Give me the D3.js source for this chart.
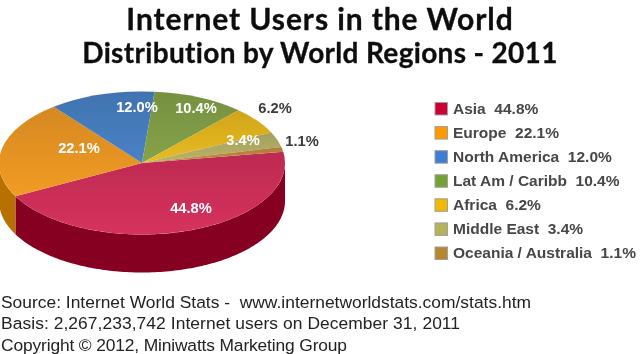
<!DOCTYPE html>
<html>
<head>
<meta charset="utf-8">
<script src="https://cdn.jsdelivr.net/npm/d3@7"></script>
<style>
  html, body { margin: 0; padding: 0; background: #fff; }
  svg { display: block; }
  text { white-space: pre; }
  .title { font-family: Lato, sans-serif; font-weight: bold; fill: #0c0c0c; stroke: #0c0c0c; stroke-width: 0.3; text-anchor: middle; }
  .slice-label { font: bold 14.7px "Liberation Sans", sans-serif; text-anchor: middle; dominant-baseline: middle; }
  .legend-label { font: bold 15.5px "Liberation Sans", sans-serif; fill: #474747; dominant-baseline: middle; }
  .footer { font: 17.4px "Liberation Sans", sans-serif; fill: #222; }
</style>
</head>
<body>
<div id="chart"></div>
<script>
const titleLines = ["Internet Users in the World", "Distribution by World Regions - 2011"];
const regions = ["Asia", "Europe", "North America", "Lat Am / Caribb", "Africa", "Middle East", "Oceania / Australia"];
const shares = [44.8, 22.1, 12.0, 10.4, 6.2, 3.4, 1.1];
const legendColors = ["#cc0033", "#ff9900", "#3d7fd6", "#77a035", "#f0b800", "#b3b35c", "#b8862d"];
const topColors = ["#c42d55", "#dd8e22", "#4377b5", "#7a9543", "#d6ab1e", "#aaa560", "#b5803a"];
const sideColors = ["#860020", "#b87000", "#2a5a90", "#5a7030", "#a08010", "#80804a", "#8a6020"];
const footerLines = [
  "Source: Internet World Stats -  www.internetworldstats.com/stats.htm",
  "Basis: 2,267,233,742 Internet users on December 31, 2011",
  "Copyright \u00A9 2012, Miniwatts Marketing Group"
];

const width = 640;
const height = 354;

const cx = 142;
const cy = 163;
const rx = 143;
const ry = 71.5;
const depth = 38;

// hand placed in the original, they do not sit on a common radius
const labelSpots = {
  "Asia": [191, 209],
  "Europe": [79, 149],
  "North America": [137, 108],
  "Lat Am / Caribb": [196, 109],
  "Africa": [275, 109],
  "Middle East": [243, 141],
  "Oceania / Australia": [302, 142]
};
const outsideLabels = ["Africa", "Oceania / Australia"];

// size, tracking and baseline per title line, the second line is set smaller
const titleStyle = [
  {size: 30, spacing: 0.9, base: 30},
  {size: 28, spacing: 0.33, base: 63}
];
const footerWidths = [530, 459, 346];

const svg = d3.select("#chart").append("svg")
  .attr("width", width)
  .attr("height", height);

const defs = svg.append("defs");

defs.append("filter")
  .attr("id", "soft")
  .append("feGaussianBlur")
  .attr("stdDeviation", 0.45);

const rows = regions.map(function (name, i) {
  return {name: name, share: shares[i], top: topColors[i], side: sideColors[i], legend: legendColors[i]};
});

const pie = d3.pie()
  .sort(null)
  .value(function (d) { return d.share; })
  .startAngle(81 * Math.PI / 180)
  .endAngle(441 * Math.PI / 180);

const slices = pie(rows);

const arc = d3.arc()
  .innerRadius(0)
  .outerRadius(rx);

// rim of the tilted disc, angle measured clockwise from 12 o'clock
function rim(a, drop) {
  return [cx + rx * Math.sin(a), cy - ry * Math.cos(a) + drop];
}

function wallPath(d) {
  const a0 = Math.max(d.startAngle, Math.PI / 2);
  const a1 = Math.min(d.endAngle, 3 * Math.PI / 2);
  if (a1 <= a0) return null;
  const steps = d3.range(a0, a1, 0.02).concat([a1]);
  const pts = steps.map(function (a) { return rim(a, 0); })
    .concat(steps.slice().reverse().map(function (a) { return rim(a, depth); }));
  return d3.line()(pts) + "Z";
}

slices.forEach(function (d, i) {
  const g = defs.append("linearGradient")
    .attr("id", "top" + i)
    .attr("x1", 0).attr("y1", 0)
    .attr("x2", 0).attr("y2", 1);
  g.append("stop").attr("offset", "0%")
    .attr("stop-color", d3.color(d.data.top).darker(0.1));
  g.append("stop").attr("offset", "100%")
    .attr("stop-color", d3.color(d.data.top).brighter(0.25));
});

const disc = svg.append("g").attr("filter", "url(#soft)");

disc.selectAll("path.wall")
  .data(slices.filter(wallPath))
  .enter().append("path")
  .attr("class", "wall")
  .attr("d", wallPath)
  .attr("fill", function (d) { return d.data.side; });

disc.selectAll("path.top")
  .data(slices)
  .enter().append("path")
  .attr("class", "top")
  .attr("transform", "translate(" + cx + "," + cy + ") scale(1," + (ry / rx) + ")")
  .attr("d", arc)
  .attr("fill", function (d, i) { return "url(#top" + i + ")"; });

const labels = svg.append("g").attr("filter", "url(#soft)");

labels.selectAll("text")
  .data(rows)
  .enter().append("text")
  .attr("class", "slice-label")
  .attr("x", function (d) { return labelSpots[d.name][0]; })
  .attr("y", function (d) { return labelSpots[d.name][1]; })
  .attr("fill", function (d) { return outsideLabels.includes(d.name) ? "#3a3a3a" : "#fff"; })
  .text(function (d) { return d.share.toFixed(1) + "%"; });

const y = d3.scalePoint()
  .domain(regions)
  .range([108.5, 253]);

const legend = svg.append("g").attr("filter", "url(#soft)");

const entry = legend.selectAll("g")
  .data(rows)
  .enter().append("g")
  .attr("transform", function (d) { return "translate(435," + y(d.name) + ")"; });

entry.append("rect")
  .attr("x", 0).attr("y", -6)
  .attr("width", 12.5).attr("height", 12.5)
  .attr("fill", function (d) { return d.legend; })
  .attr("stroke", "#a0a0a0")
  .attr("stroke-width", 1);

entry.append("text")
  .attr("class", "legend-label")
  .attr("x", 18)
  .attr("y", 1)
  .text(function (d) { return d.name + "  " + d.share.toFixed(1) + "%"; });

const titles = svg.append("g").attr("filter", "url(#soft)");

titles.selectAll("text")
  .data(titleLines)
  .enter().append("text")
  .attr("class", "title")
  .attr("x", 320)
  .attr("y", function (d, i) { return titleStyle[i].base; })
  .style("font-size", function (d, i) { return titleStyle[i].size + "px"; })
  .style("letter-spacing", function (d, i) { return titleStyle[i].spacing + "px"; })
  .text(function (d) { return d; });

const footer = svg.append("g").attr("filter", "url(#soft)");

footer.selectAll("text")
  .data(footerLines)
  .enter().append("text")
  .attr("class", "footer")
  .attr("x", 1)
  .attr("y", function (d, i) { return 308 + i * 21.3; })
  .attr("textLength", function (d, i) { return footerWidths[i]; })
  .attr("lengthAdjust", "spacing")
  .text(function (d) { return d; });
</script>
</body>
</html>
